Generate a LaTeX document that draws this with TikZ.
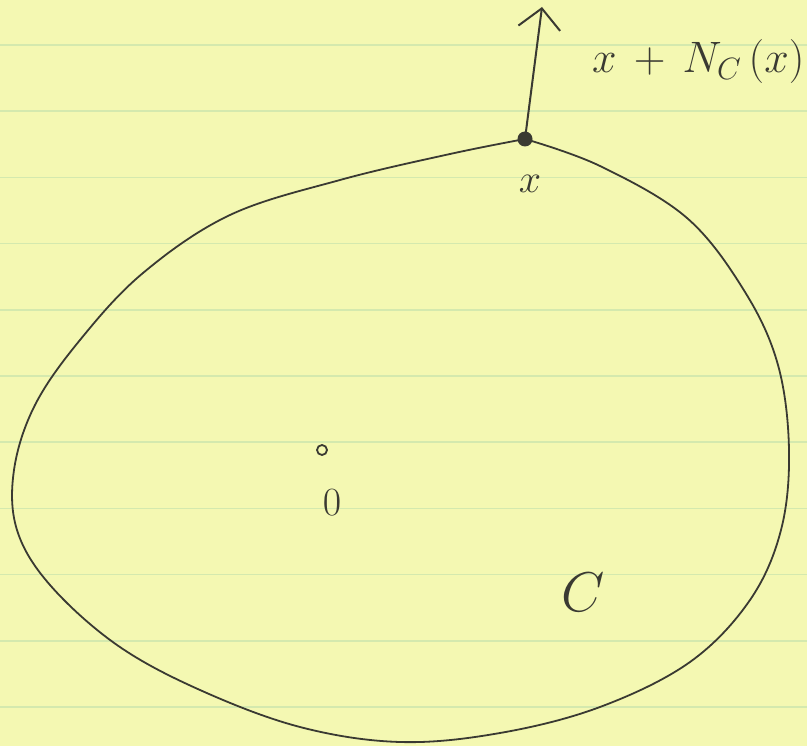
\RequirePackage{fix-cm}
\documentclass[tikz,border=0pt]{standalone}
\usepackage{tikz}
\usetikzlibrary{positioning,arrows.meta}
\definecolor{papel}{HTML}{F4F8B2}
\definecolor{renglon}{HTML}{D4E9AE}
\definecolor{tinta}{HTML}{3A3A32}
\tikzset{
  trazo/.style={draw=tinta,line width=1.8pt,line join=round,line cap=round},
  flecha/.style={-{Straight Barb[length=20pt,width=42pt,line width=2pt]},draw=tinta,line width=2pt,line cap=round},
  etiqueta/.style={font=\fontsize{40}{44}\selectfont,text=tinta,inner sep=0pt},
  punto/.style={circle,fill=tinta,minimum size=15pt,inner sep=0pt},
  origen/.style={circle,draw=tinta,line width=1.8pt,minimum size=10pt,inner sep=0pt},
}

\begin{document}
\begin{tikzpicture}[x=1pt,y=-1pt]
  \useasboundingbox (0,0) rectangle (807,746);
  \fill[papel] (0,0) rectangle (807,746);
  \foreach \k in {0,...,10}
    \draw[renglon,line width=1.6pt] (0,45+66.2*\k) -- (807,45+66.2*\k);
  \draw[trazo] plot[smooth,tension=0.6] coordinates {
    (525,139) (600,166) (687,218) (745,292) (778,365) (789,450) (781,530)
    (750,600) (690,662) (600,707) (500,733) (400,742) (300,727) (200,690)
    (117,645) (50,585) (17,530) (14,470) (35,405) (80,340) (143,273)
    (230,215) (340,180) (450,154) (525,139)};
  \node[punto] (px) at (525,139) {};
  \coordinate (tip) at (542,7);
  \draw[flecha] (px.center) -- (tip);
  \node[etiqueta,font=\fontsize{44}{48}\selectfont,anchor=west] (normal) at (592,62) {$x\,+\,N_C\,(x)$};
  \node[etiqueta] (lx) at (530,184) {$x$};
  \node[origen] (o) at (322,450) {};
  \node[etiqueta] (lo) at (332,503) {$0$};
  \node[etiqueta,font=\fontsize{56}{60}\selectfont] (lc) at (583,592) {$C$};
\end{tikzpicture}
\end{document}
